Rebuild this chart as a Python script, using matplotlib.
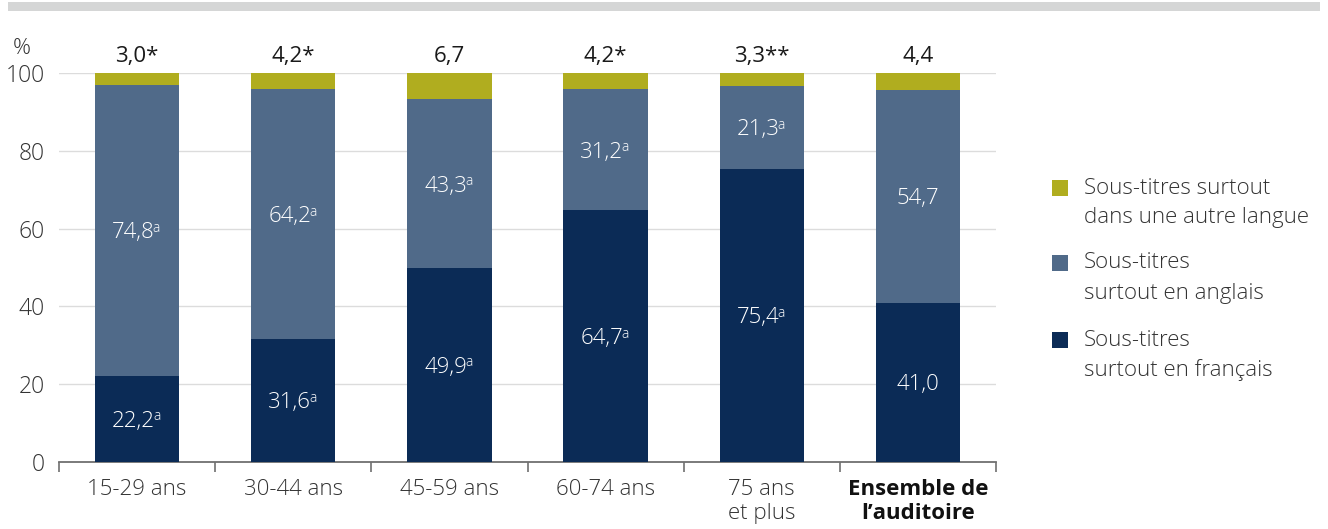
import matplotlib
matplotlib.use("Agg")
import matplotlib.pyplot as plt
from matplotlib.patches import Rectangle

plt.rcParams['font.family'] = ['Open Sans', 'DejaVu Sans']
plt.rcParams['font.weight'] = 'light'

categories = ["15-29 ans", "30-44 ans", "45-59 ans", "60-74 ans", "75 ans\net plus", "Ensemble de\nl\u2019auditoire"]
francais = [22.2, 31.6, 49.9, 64.7, 75.4, 41.0]
anglais = [74.8, 64.2, 43.3, 31.2, 21.3, 54.7]
autre = [3.0, 4.2, 6.7, 4.2, 3.3, 4.4]
fr_marks = ["a", "a", "a", "a", "a", ""]
en_marks = ["a", "a", "a", "a", "a", ""]
autre_marks = ["*", "*", "", "*", "**", ""]
series_names = [["Sous-titres surtout", "dans une autre langue"],
                ["Sous-titres", "surtout en anglais"],
                ["Sous-titres", "surtout en fran\u00e7ais"]]

c_fr = "#0B2B56"
c_en = "#506A89"
c_au = "#B0AD1F"
txt = "#1A1A1A"

def fmt(v):
    return f"{v:.1f}".replace(".", ",")

fig = plt.figure(figsize=(13.28, 5.29), dpi=100)
renderer = fig.canvas.get_renderer()
fig.add_artist(Rectangle((8/1328, 1 - 11/529), 1312/1328, 9/529, transform=fig.transFigure,
                         facecolor="#D5D6D6", edgecolor="none"))

ax = fig.add_axes([59/1328, (529-462)/529, 937/1328, 389/529])
x = list(range(len(categories)))
w = 0.54
ax.bar(x, francais, width=w, color=c_fr, edgecolor="none", zorder=3)
ax.bar(x, anglais, width=w, bottom=francais, color=c_en, edgecolor="none", zorder=3)
bot3 = [a + b for a, b in zip(francais, anglais)]
ax.bar(x, autre, width=w, bottom=bot3, color=c_au, edgecolor="none", zorder=3)

fs = 16
sfs = 10
cap = 0.714 * fs * 100 / 72  # pixels
raise_px = 6.5

def width_px(s, size):
    t = fig.text(0, 0, s, fontsize=size)
    wd = t.get_window_extent(renderer=renderer).width
    t.remove()
    return wd

def val_label(xc, yc, v, mark):
    s = fmt(v)
    W = width_px(s, fs)
    ws = width_px(mark, sfs) if mark else 0
    ax.annotate(s, (xc, yc), xytext=(-ws/2, -cap/2), textcoords="offset pixels",
                ha="center", va="baseline", color="white", fontsize=fs, zorder=4)
    if mark:
        ax.annotate(mark, (xc, yc), xytext=(W/2 - ws/2 - 2, -cap/2 + raise_px),
                    textcoords="offset pixels", ha="left", va="baseline",
                    color="white", fontsize=sfs, zorder=4)

for i in x:
    val_label(i, francais[i]/2, francais[i], fr_marks[i])
    val_label(i, francais[i] + anglais[i]/2, anglais[i], en_marks[i])
    ax.annotate(fmt(autre[i]) + autre_marks[i], (i, 100), xytext=(0, 4), textcoords="offset points",
                ha="center", va="bottom", color=txt, fontsize=fs, annotation_clip=False,
                fontweight="normal")

ax.set_xlim(-0.5, len(categories) - 0.5)
ax.set_ylim(0, 100)
ax.set_yticks([0, 20, 40, 60, 80, 100])
ax.grid(axis="y", color="#DCDCDC", linewidth=1, zorder=0)
ax.set_axisbelow(True)
for s in ["top", "right", "left"]:
    ax.spines[s].set_visible(False)
ax.spines["bottom"].set_color("#707070")
ax.spines["bottom"].set_linewidth(1.3)
ax.tick_params(axis="y", length=0, labelsize=16.5, labelcolor="#333333", pad=10)
ax.set_xticks([i - 0.5 for i in range(len(categories) + 1)])
ax.set_xticklabels([])
ax.tick_params(axis="x", length=7, width=1.2, color="#707070")
for i, c in enumerate(categories):
    t = ax.text(i, -4.3, c, ha="center", va="top", fontsize=fs, color="#333333",
                linespacing=1.2)
    if i == len(categories) - 1:
        t.set_fontweight("bold")
        t.set_color("#111111")
ax.text(-0.5 - 0.18, 103.5, "%", ha="right", va="bottom", fontsize=fs, color="#333333")

legend_y = [188, 263, 340]
legend_c = [c_au, c_en, c_fr]
for yy, cc, lines in zip(legend_y, legend_c, series_names):
    fig.add_artist(Rectangle((1052/1328, 1 - (yy + 8)/529), 16/1328, 16/529,
                             transform=fig.transFigure, facecolor=cc, edgecolor="none"))
    for k, line in enumerate(lines):
        fig.text(1084/1328, 1 - (yy + 30*k)/529, line, ha="left", va="center", fontsize=fs,
                 color="#333333")

fig.savefig("out.png", dpi=100)
